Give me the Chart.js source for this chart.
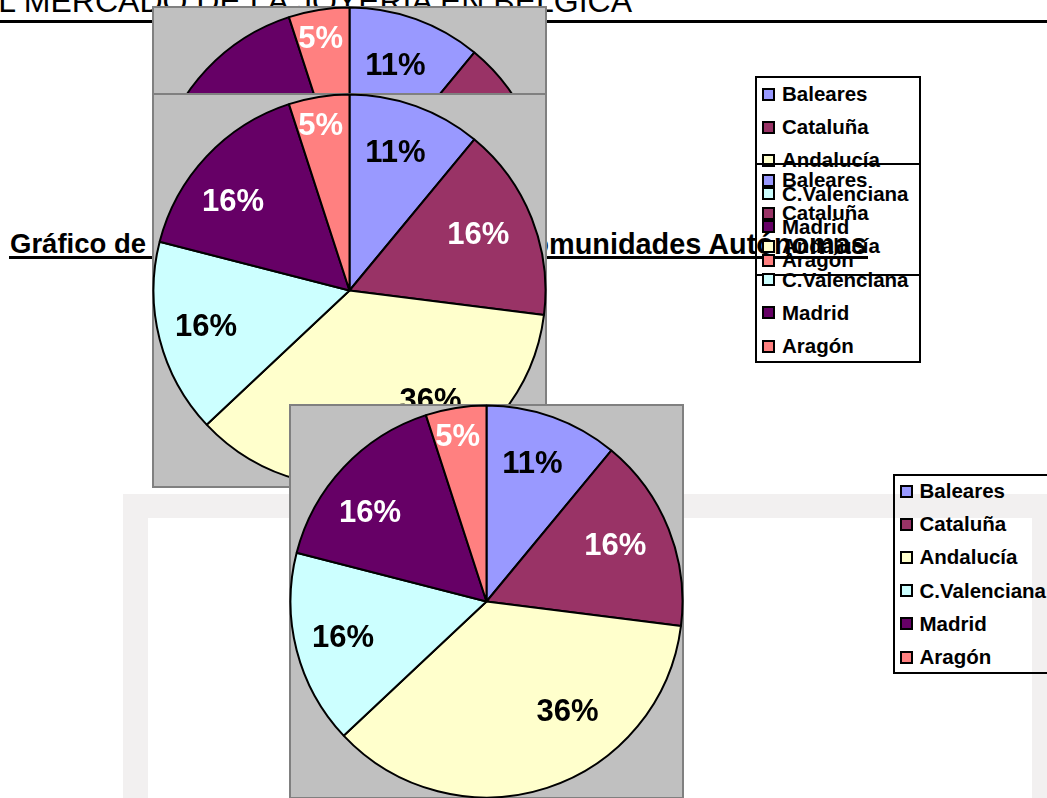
<!DOCTYPE html>
<html><head><meta charset="utf-8">
<script src="https://cdn.jsdelivr.net/npm/chart.js@4.4.1/dist/chart.umd.min.js"></script>
<style>
html,body{margin:0;padding:0;width:1047px;height:798px;overflow:hidden;background:#fff;font-family:"Liberation Sans",Arial,sans-serif;position:relative;}
.abs{position:absolute;}
#header{left:-23px;top:-15px;font-size:32px;line-height:32px;white-space:nowrap;color:#000;}
#headerLine{left:0;top:20px;width:1047px;height:3px;background:#000;}
.heading{top:230px;font-size:27.5px;line-height:28px;font-weight:bold;white-space:nowrap;color:#000;}
#headingLine{left:9px;top:256px;width:859px;height:3px;background:#000;}
#frame{left:123px;top:494px;width:1000px;height:400px;background:#f2f0f0;}
#frameInner{left:148px;top:518px;width:884px;height:400px;background:#fff;}
canvas.pie{position:absolute;}
.legend{position:absolute;border:2px solid #000;box-sizing:border-box;}
.item{position:absolute;white-space:nowrap;font-weight:bold;font-size:20.5px;line-height:20px;height:20px;color:#000;}
.swatch{position:absolute;width:13px;height:13px;border:2px solid #000;box-sizing:border-box;}
</style>
</head>
<body>
<div id="header" class="abs">EL MERCADO DE LA JOYERIA EN BELGICA</div>
<div id="headerLine" class="abs"></div>
<div class="abs heading" style="left:10px;">Gráfico de</div>
<div id="heading2" class="abs heading" style="left:0px;"><span id="hidA">distribución por Co</span><span id="visB">munidades Autónomas</span></div>
<div id="headingLine" class="abs"></div>
<div id="frame" class="abs"></div>
<div id="frameInner" class="abs"></div>
<canvas id="c1" class="pie" width="395" height="395" style="left:152px;top:6px;"></canvas>
<canvas id="c2" class="pie" width="395" height="395" style="left:152px;top:93px;"></canvas>
<canvas id="c3" class="pie" width="395" height="395" style="left:289px;top:404px;"></canvas>
<div id="legends"></div>
<script>
// ---- data ----
const categories = ["Baleares", "Cataluña", "Andalucía", "C.Valenciana", "Madrid", "Aragón"];
const shares = [11, 16, 36, 16, 16, 5];
const sliceColors = ["#9999FF", "#993366", "#FFFFCC", "#CCFFFF", "#660066", "#FF8080"];
const labelColors = ["#000000", "#FFFFFF", "#000000", "#000000", "#FFFFFF", "#FFFFFF"];

// ---- heading placement: visible part "munidades Autónomas" spans x 549..867 ----
(function () {
  const h = document.getElementById('heading2');
  const b = document.getElementById('visB');
  const w0 = b.getBoundingClientRect().width;
  const fs = 27.5 * 318 / w0;
  h.style.fontSize = fs + 'px';
  const off = b.getBoundingClientRect().left - h.getBoundingClientRect().left;
  h.style.left = (549 - off) + 'px';
})();

// ---- plugins ----
const boxPlugin = {
  id: 'grayBox',
  beforeDraw(chart) {
    const ctx = chart.ctx, w = chart.width, h = chart.height;
    ctx.save();
    ctx.fillStyle = '#C0C0C0';
    ctx.fillRect(0, 0, w, h);
    ctx.strokeStyle = '#808080';
    ctx.lineWidth = 2;
    ctx.strokeRect(1, 1, w - 2, h - 2);
    ctx.restore();
  }
};
const labelPlugin = {
  id: 'sliceLabels',
  afterDatasetsDraw(chart, args, opts) {
    const ctx = chart.ctx;
    const meta = chart.getDatasetMeta(0);
    const ds = chart.data.datasets[0];
    const total = ds.data.reduce((a, b) => a + b, 0);
    ctx.save();
    ctx.font = 'bold ' + opts.size + 'px "Liberation Sans", Arial, sans-serif';
    ctx.textAlign = 'center';
    ctx.textBaseline = 'alphabetic';
    meta.data.forEach((arc, i) => {
      const p = arc.getProps(['x', 'y', 'startAngle', 'endAngle', 'outerRadius'], true);
      const mid = (p.startAngle + p.endAngle) / 2;
      const r = p.outerRadius * opts.radiusFraction;
      const n = opts.nudge[i] || [0, 0];
      const px = p.x + Math.cos(mid) * r + n[0];
      const py = p.y + Math.sin(mid) * r + n[1];
      ctx.fillStyle = opts.colors[i];
      ctx.fillText(Math.round(ds.data[i] / total * 100) + '%', px, py + opts.size * 0.358);
    });
    ctx.restore();
  }
};

function makePie(id) {
  return new Chart(document.getElementById(id), {
    type: 'pie',
    data: {
      labels: categories,
      datasets: [{
        data: shares,
        backgroundColor: sliceColors,
        borderColor: '#000000',
        borderWidth: 2,
        hoverOffset: 0
      }]
    },
    options: {
      responsive: false,
      animation: false,
      events: [],
      radius: 196,
      layout: { padding: 0 },
      plugins: {
        legend: { display: false },
        tooltip: { enabled: false },
        sliceLabels: {
          size: 31,
          radiusFraction: 0.745,
          colors: labelColors,
          nudge: [[-3.5, -2], [-7, -4], [36, -30.6], [-2, -2.3], [-10, 9], [-6, -22]]
        }
      }
    },
    plugins: [boxPlugin, labelPlugin]
  });
}
makePie('c1');
makePie('c2');
makePie('c3');

// ---- legends ----
function makeLegend(left, top, width, swatchX, textX, firstRow) {
  const box = document.createElement('div');
  box.className = 'legend';
  box.style.left = left + 'px';
  box.style.top = top + 'px';
  box.style.width = width + 'px';
  box.style.height = '200px';
  categories.forEach((name, i) => {
    const cy = firstRow + i * 33.2;
    const sw = document.createElement('div');
    sw.className = 'swatch';
    sw.style.left = swatchX + 'px';
    sw.style.top = (cy - 6.5) + 'px';
    sw.style.background = sliceColors[i];
    box.appendChild(sw);
    const it = document.createElement('div');
    it.className = 'item';
    it.style.left = textX + 'px';
    it.style.top = (cy - 10) + 'px';
    it.textContent = name;
    box.appendChild(it);
  });
  document.getElementById('legends').appendChild(box);
}
makeLegend(755, 76, 166, 5, 25, 16);
makeLegend(755, 163, 166, 5, 25, 15);
makeLegend(893, 474, 200, 5, 24.5, 15);
</script>
</body></html>
